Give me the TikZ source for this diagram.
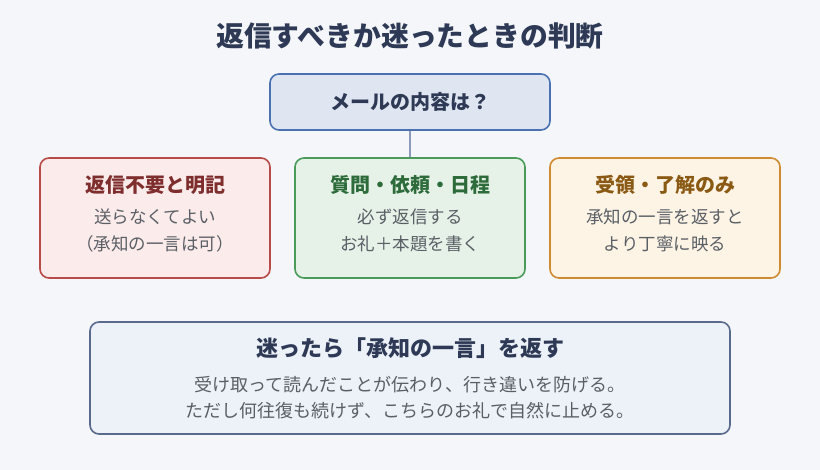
\documentclass[tikz,border=0pt]{standalone}
\usepackage{fontspec}
\setmainfont{Noto Sans CJK JP}
\usetikzlibrary{positioning}

\definecolor{bgcol}{HTML}{F4F6FA}
\definecolor{titlecol}{HTML}{2E3A55}
\definecolor{bodycol}{HTML}{5A5F66}
\definecolor{qfill}{HTML}{DFE6F2}
\definecolor{qline}{HTML}{4A72B0}
\definecolor{linkcol}{HTML}{8A9AB8}
\definecolor{redfill}{HTML}{FBEBEB}
\definecolor{redline}{HTML}{B84A48}
\definecolor{redtext}{HTML}{7F2E2E}
\definecolor{greenfill}{HTML}{E6F2E8}
\definecolor{greenline}{HTML}{4A9A5A}
\definecolor{greentext}{HTML}{2E6B3A}
\definecolor{orangefill}{HTML}{FDF4E6}
\definecolor{orangeline}{HTML}{D08A30}
\definecolor{orangetext}{HTML}{8A5A14}
\definecolor{notefill}{HTML}{EDF1F8}
\definecolor{noteline}{HTML}{5A6A8C}

\tikzset{
  box/.style={draw, rounded corners=9pt, line width=1.6pt, minimum width=230pt,
    minimum height=120pt, inner sep=0pt},
  head/.style={font=\bfseries\fontsize{20}{24}\selectfont},
  body/.style={font=\fontsize{17.5}{27}\selectfont, text=bodycol, align=center},
}

\begin{document}
\begin{tikzpicture}[x=1pt,y=-1pt]
  \fill[bgcol] (0,0) rectangle (820,470);
  \useasboundingbox (0,0) rectangle (820,470);
  % title
  \node[font=\bfseries\fontsize{27.8}{32}\selectfont, text=titlecol] (title) at (410,36)
    {返信すべきか迷ったときの判断};
  % question
  \node[box, fill=qfill, draw=qline, minimum width=280pt, minimum height=56pt,
    head, text=titlecol] (q) at (410,102) {メールの内容は？};
  % three cases
  \node[box, fill=redfill, draw=redline] (noreply) at (155,218) {};
  \node[box, fill=greenfill, draw=greenline] (reply) at (410,218) {};
  \node[box, fill=orangefill, draw=orangeline] (ack) at (665,218) {};
  \draw[linkcol, line width=1.6pt] (q.south) -- (reply.north);
  \node[head, text=redtext] (noreplyhead) at (155,185) {返信不要と明記};
  \node[body] (noreplybody) at (155,230) {送らなくてよい\\（承知の一言は可）};
  \node[head, text=greentext] (replyhead) at (410,185) {質問・依頼・日程};
  \node[body] (replybody) at (410,230) {必ず返信する\\お礼＋本題を書く};
  \node[head, text=orangetext] (ackhead) at (665,185) {受領・了解のみ};
  \node[body] (ackbody) at (665,230) {承知の一言を返すと\\より丁寧に映る};
  % advice
  \node[box, fill=notefill, draw=noteline, minimum width=640pt, minimum height=112pt]
    (note) at (410,378) {};
  \node[font=\bfseries\fontsize{22}{26}\selectfont, text=titlecol] (notehead) at (410,348)
    {迷ったら「承知の一言」を返す};
  \node[body, font=\fontsize{18}{26}\selectfont] (notebody) at (410,398)
    {受け取って読んだことが伝わり、行き違いを防げる。\\ただし何往復も続けず、こちらのお礼で自然に止める。};
\end{tikzpicture}
\end{document}
